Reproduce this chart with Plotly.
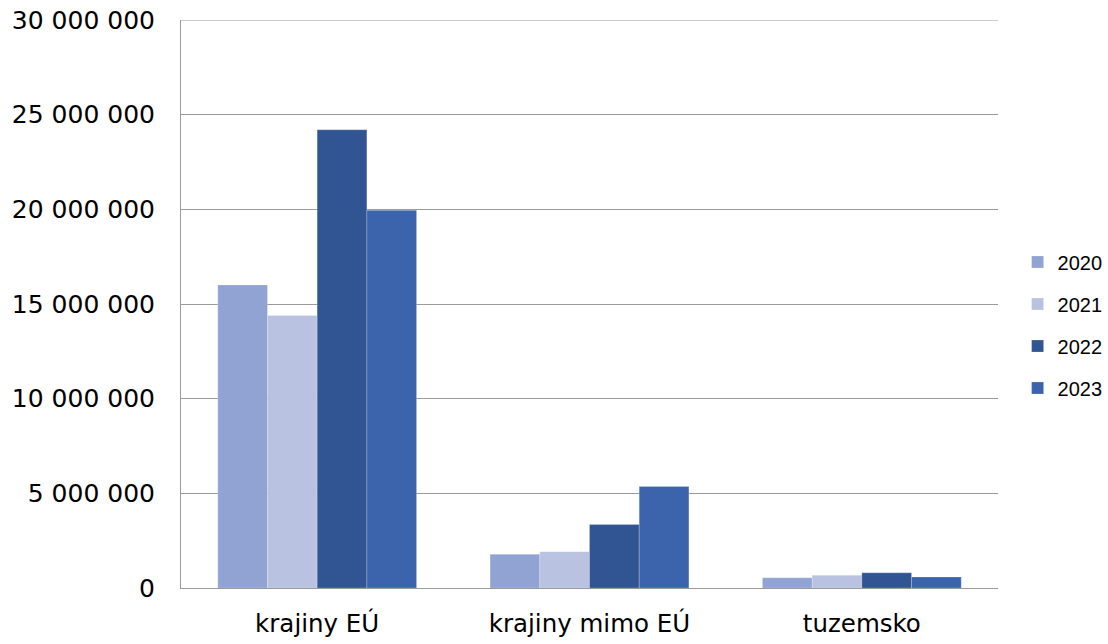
import plotly.graph_objects as go

categories = ["krajiny EÚ", "krajiny mimo EÚ", "tuzemsko"]
years = ["2020", "2021", "2022", "2023"]
values_2020 = [16000000, 1780000, 540000]
values_2021 = [14390000, 1920000, 670000]
values_2022 = [24200000, 3350000, 800000]
values_2023 = [19950000, 5360000, 580000]
series = [values_2020, values_2021, values_2022, values_2023]
colors = ["#91A3D3", "#B9C3E1", "#305592", "#3B64AC"]

tick_vals = [0, 5000000, 10000000, 15000000, 20000000, 25000000, 30000000]
tick_text = ["0", "5 000 000", "10 000 000", "15 000 000", "20 000 000", "25 000 000", "30 000 000"]

fig = go.Figure()
for i, (yr, vals) in enumerate(zip(years, series)):
    fig.add_trace(go.Bar(
        name=yr, x=categories, y=vals,
        marker=dict(color=colors[i], line=dict(width=0.6, color="rgba(255,255,255,0.35)")),
        legendgroup=yr,
    ))

# top gridline at the maximum of the axis range
fig.add_shape(type="line", xref="paper", yref="y", x0=0, x1=1,
              y0=tick_vals[-1], y1=tick_vals[-1],
              line=dict(color="#9a9a9a", width=1), layer="below")

fig.update_layout(
    width=1108, height=644,
    barmode="group", bargap=0.27, bargroupgap=0,
    plot_bgcolor="white", paper_bgcolor="white",
    margin=dict(l=181, r=110, t=20, b=56, autoexpand=False),
    font=dict(family="DejaVu Sans", color="black"),
    legend=dict(
        x=1.024, xanchor="left", y=0.463, yanchor="middle",
        font=dict(family="Liberation Sans", size=20),
        tracegroupgap=13, itemwidth=30,
    ),
    showlegend=True,
)
fig.update_yaxes(
    range=[0, 30000000], tickvals=tick_vals, ticktext=tick_text,
    showgrid=True, gridcolor="#9a9a9a", gridwidth=1,
    showline=True, linecolor="#9a9a9a", linewidth=1,
    zeroline=False, ticks="", tickfont=dict(size=25, family="DejaVu Sans"),
    ticklabelstandoff=20, automargin=False, ticklabeloverflow="allow",
)
fig.update_xaxes(
    showline=True, linecolor="#9a9a9a", linewidth=1,
    ticks="", tickfont=dict(size=24.5, family="DejaVu Sans"),
    ticklabelstandoff=14, automargin=False, ticklabeloverflow="allow",
)

fig.write_html(
    "out.html",
    config={"displayModeBar": False},
    post_script="document.body.style.margin='0';document.body.style.overflow='hidden';",
)
